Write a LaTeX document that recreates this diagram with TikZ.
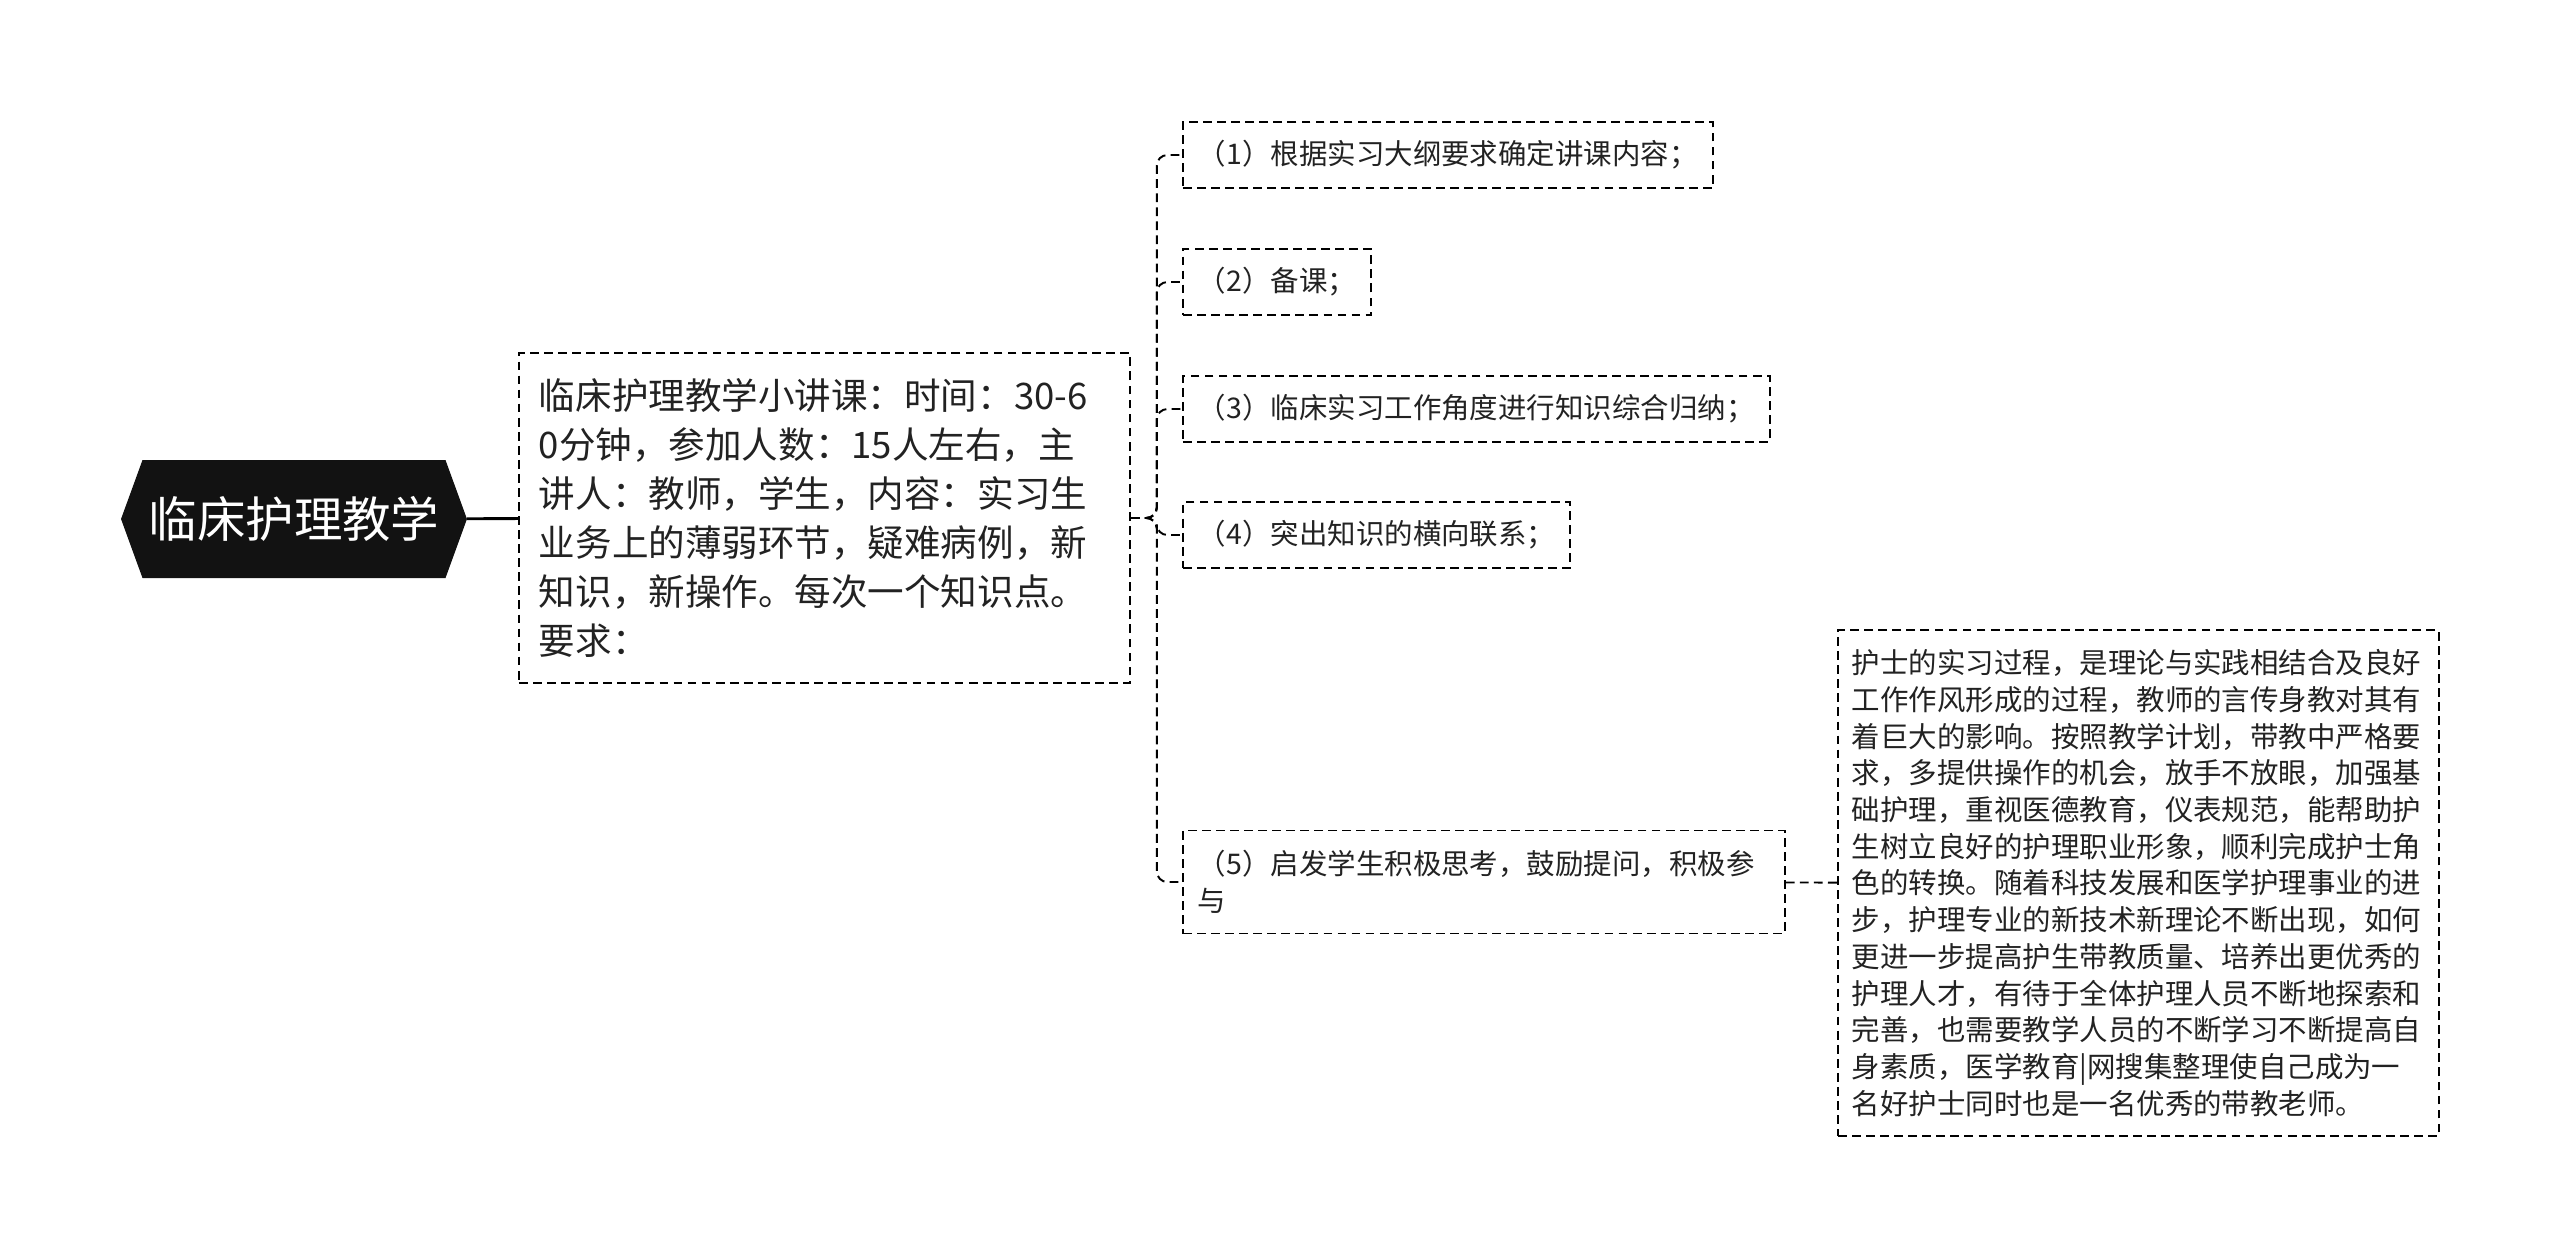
\documentclass[tikz,border=0pt]{standalone}
\usepackage{fontspec}
\setmainfont{Noto Sans CJK SC}
\usetikzlibrary{shapes.symbols, positioning}

\definecolor{ink}{HTML}{222222}

\tikzset{
  topic/.style={shape=signal, signal to=west and east, signal pointer angle=140,
    fill=black!93, text=white, minimum width=6.92cm, minimum height=2.36cm,
    inner xsep=0pt, font=\fontsize{27.6pt}{32pt}\selectfont},
  box/.style={draw=black, dash pattern=on 5pt off 3pt, line width=1.1pt, text=ink, align=left},
  lesson/.style={box, anchor=west, text width=11.42cm, inner xsep=0.4cm,
    minimum height=6.6cm, font=\fontsize{20.8pt}{27.8pt}\selectfont},
  item/.style={box, anchor=west, inner xsep=0.3cm, minimum height=1.32cm,
    font=\fontsize{16.2pt}{20.9pt}\selectfont},
  note/.style={box, anchor=west, text width=11.46cm, inner xsep=0.28cm,
    minimum height=10.12cm, font=\fontsize{16.2pt}{20.9pt}\selectfont},
  link/.style={draw=black, dash pattern=on 5pt off 3pt, line width=1.1pt, rounded corners=6pt}
}

\begin{document}
\begin{tikzpicture}[x=0.02cm, y=-0.02cm]
  \useasboundingbox (0,0) rectangle (2560,1259);

  \node[topic] (root) at (294,519) {临床护理教学};
  \node[lesson] (lesson) at (518,518) {临床护理教学小讲课：时间：30-6\\0分钟，参加人数：15人左右，主\\讲人：教师，学生，内容：实习生\\业务上的薄弱环节，疑难病例，新\\知识，新操作。每次一个知识点。\\要求：};

  \node[item] (item1) at (1182,155) {（1）根据实习大纲要求确定讲课内容；};
  \node[item] (item2) at (1182,282) {（2）备课；};
  \node[item] (item3) at (1182,409) {（3）临床实习工作角度进行知识综合归纳；};
  \node[item] (item4) at (1182,535) {（4）突出知识的横向联系；};
  \node[item, text width=11.44cm, minimum height=2.06cm] (item5) at (1182,882) {（5）启发学生积极思考，鼓励提问，积极参\\与};

  \node[note] (note) at (1837,883) {护士的实习过程，是理论与实践相结合及良好\\工作作风形成的过程，教师的言传身教对其有\\着巨大的影响。按照教学计划，带教中严格要\\求，多提供操作的机会，放手不放眼，加强基\\础护理，重视医德教育，仪表规范，能帮助护\\生树立良好的护理职业形象，顺利完成护士角\\色的转换。随着科技发展和医学护理事业的进\\步，护理专业的新技术新理论不断出现，如何\\更进一步提高护生带教质量、培养出更优秀的\\护理人才，有待于全体护理人员不断地探索和\\完善，也需要教学人员的不断学习不断提高自\\身素质，医学教育|网搜集整理使自己成为一\\名好护士同时也是一名优秀的带教老师。};

  \draw[line width=1.6pt] (root) -- (lesson);
  \foreach \n in {1,...,5}
    \draw[link] (lesson.east) -- ++(26,0) |- (item\n.west);
  \draw[link] (item5) -- (note);
\end{tikzpicture}
\end{document}
